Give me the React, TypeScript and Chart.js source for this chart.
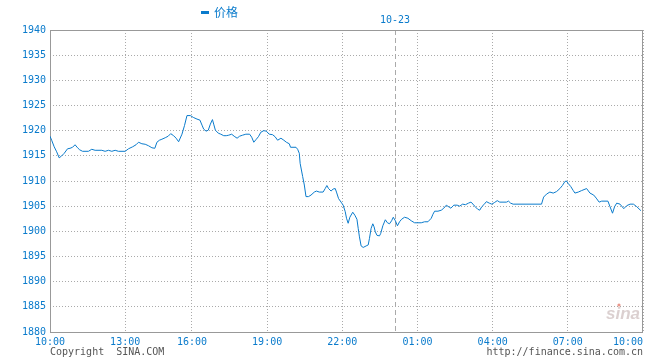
import React, { useEffect, useRef } from "react";
import { Chart, registerables } from "chart.js";

Chart.register(...registerables);

const SERIES_NAME = "价格";
const DATE_LABEL = "10-23";
const DATE_MINUTE = 826;
const COPYRIGHT_LEFT = "Copyright  SINA.COM";
const COPYRIGHT_RIGHT = "http://finance.sina.com.cn";
const WATERMARK = "sina";

const X_MIN = 0;
const X_MAX = 1420;
const TICK_MINUTES = [0, 180, 340, 520, 700, 880, 1060, 1240, 1420];
const TICK_LABELS = ["10:00", "13:00", "16:00", "19:00", "22:00", "01:00", "04:00", "07:00", "10:00"];

const Y_MIN = 1880;
const Y_MAX = 1940;
const Y_STEP = 5;

// session minutes since 10:00 on the chart's time axis
const MINUTES = [
  0, 4, 10, 16, 22, 28, 34, 42, 48, 54, 60, 66, 71, 78, 92, 100, 108, 124, 132, 140,
  148, 156, 164, 180, 188, 198, 206, 212, 220, 228, 236, 244, 251, 256, 262, 268, 276, 283, 289, 296,
  302, 308, 316, 322, 328, 336, 344, 352, 359, 364, 368, 374, 379, 384, 389, 392, 396, 403, 409, 416,
  422, 428, 435, 441, 448, 454, 461, 469, 478, 483, 488, 494, 499, 505, 512, 518, 525, 533, 539, 545,
  553, 560, 566, 573, 576, 589, 593, 597, 599, 605, 609, 613, 619, 625, 633, 638, 645, 654, 659, 663,
  667, 673, 678, 683, 686, 691, 697, 702, 707, 710, 714, 718, 725, 730, 735, 738, 741, 745, 750, 757,
  762, 765, 769, 773, 776, 779, 783, 789, 792, 797, 803, 808, 813, 818, 822, 827, 832, 837, 842, 849,
  857, 865, 873, 889, 897, 905, 913, 917, 921, 929, 937, 943, 949, 956, 960, 967, 975, 981, 988, 995,
  1002, 1008, 1013, 1018, 1024, 1029, 1034, 1039, 1045, 1052, 1058, 1064, 1071, 1077, 1093, 1098, 1103, 1109, 1177, 1182,
  1189, 1197, 1205, 1213, 1221, 1227, 1233, 1237, 1241, 1247, 1253, 1257, 1265, 1273, 1285, 1293, 1302, 1308, 1315, 1321,
  1336, 1341, 1347, 1352, 1357, 1365, 1374, 1381, 1389, 1397, 1405, 1415,
];

const PRICES = [
  1918.9, 1918.1, 1916.8, 1915.8, 1914.6, 1915.0, 1915.5, 1916.4, 1916.5, 1916.7, 1917.2, 1916.6, 1916.2, 1915.9, 1915.9, 1916.3, 1916.1, 1916.1, 1915.9, 1916.1,
  1915.9, 1916.1, 1915.9, 1915.9, 1916.4, 1916.8, 1917.2, 1917.7, 1917.4, 1917.3, 1917.0, 1916.6, 1916.5, 1917.7, 1918.1, 1918.3, 1918.6, 1918.9, 1919.4, 1919.0,
  1918.5, 1917.8, 1919.3, 1921.0, 1923.0, 1923.0, 1922.6, 1922.3, 1922.1, 1921.1, 1920.3, 1919.9, 1920.1, 1921.3, 1922.2, 1921.3, 1920.1, 1919.5, 1919.3, 1919.0,
  1919.0, 1919.1, 1919.3, 1918.9, 1918.5, 1918.9, 1919.1, 1919.3, 1919.3, 1918.7, 1917.7, 1918.3, 1918.8, 1919.7, 1920.0, 1919.9, 1919.3, 1919.2, 1918.8, 1918.1,
  1918.5, 1918.1, 1917.7, 1917.4, 1916.7, 1916.7, 1916.3, 1915.5, 1913.5, 1910.9, 1909.2, 1906.9, 1906.9, 1907.2, 1907.8, 1908.0, 1907.8, 1907.8, 1908.5, 1909.1,
  1908.5, 1908.0, 1908.4, 1908.5, 1907.8, 1906.5, 1905.8, 1905.2, 1903.9, 1902.6, 1901.6, 1902.8, 1903.8, 1903.2, 1902.4, 1900.6, 1898.9, 1897.1, 1896.8, 1897.1,
  1897.3, 1898.6, 1900.6, 1901.5, 1900.9, 1899.9, 1899.2, 1899.1, 1899.6, 1901.1, 1902.3, 1901.7, 1901.5, 1902.1, 1902.8, 1902.1, 1901.1, 1901.9, 1902.4, 1902.8,
  1902.6, 1902.1, 1901.7, 1901.7, 1901.9, 1901.9, 1902.6, 1903.4, 1904.0, 1904.0, 1904.2, 1904.6, 1905.2, 1904.8, 1904.6, 1905.2, 1905.2, 1905.0, 1905.4, 1905.3,
  1905.6, 1905.8, 1905.4, 1904.9, 1904.4, 1904.2, 1904.9, 1905.3, 1905.9, 1905.6, 1905.4, 1905.7, 1906.1, 1905.8, 1905.8, 1906.0, 1905.6, 1905.4, 1905.4, 1906.8,
  1907.4, 1907.8, 1907.6, 1907.9, 1908.5, 1909.1, 1909.9, 1910.0, 1909.5, 1908.9, 1908.1, 1907.6, 1907.8, 1908.1, 1908.5, 1907.6, 1907.2, 1906.6, 1905.8, 1906.0,
  1906.0, 1904.9, 1903.6, 1904.9, 1905.6, 1905.4, 1904.5, 1905.1, 1905.4, 1905.4, 1904.9, 1904.1,
];

const BLUE = "#0a7bcc";
const GRID = "#aaaaaa";
const BORDER = "#999999";
const MONO = "'DejaVu Sans Mono', monospace";

const decorPlugin = {
  id: "decor",
  beforeDatasetsDraw(chart: any) {
    const { ctx, chartArea: a, scales } = chart;
    const x = scales.x;
    ctx.save();
    const dx = Math.round(x.getPixelForValue(DATE_MINUTE)) + 0.5;
    ctx.strokeStyle = "#aaaaaa";
    ctx.lineWidth = 1;
    ctx.setLineDash([5, 3]);
    ctx.beginPath();
    ctx.moveTo(dx, a.top);
    ctx.lineTo(dx, a.bottom);
    ctx.stroke();
    ctx.setLineDash([]);
    ctx.strokeStyle = BORDER;
    ctx.strokeRect(Math.round(a.left) + 0.5, Math.round(a.top) + 0.5, Math.round(a.right - a.left) - 1, Math.round(a.bottom - a.top));
    ctx.restore();
  },
  afterDraw(chart: any) {
    const { ctx, chartArea: a, scales } = chart;
    const x = scales.x;
    ctx.save();
    ctx.font = `10px ${MONO}`;
    ctx.textBaseline = "middle";
    ctx.fillStyle = BLUE;
    x.ticks.forEach((t: any) => {
      const idx = TICK_MINUTES.indexOf(t.value);
      if (idx < 0) return;
      const label = TICK_LABELS[idx];
      const px = x.getPixelForValue(t.value);
      const w = ctx.measureText(label).width;
      let left = px - w / 2;
      if (left + w > a.right) left = a.right - w;
      ctx.textAlign = "left";
      ctx.fillText(label, left, a.bottom + 10);
    });
    const dx = x.getPixelForValue(DATE_MINUTE);
    ctx.textAlign = "center";
    ctx.fillText(DATE_LABEL, dx, a.top - 10);
    ctx.fillRect(201, 11, 8, 3);
    ctx.font = "12px 'Noto Sans CJK SC', sans-serif";
    ctx.textAlign = "left";
    ctx.fillText(SERIES_NAME, 214, 12);
    ctx.font = `10px ${MONO}`;
    ctx.fillStyle = "#555555";
    ctx.textAlign = "left";
    ctx.fillText(COPYRIGHT_LEFT, a.left, 352);
    ctx.textAlign = "right";
    ctx.fillText(COPYRIGHT_RIGHT, a.right, 352);
    ctx.font = "italic bold 17px 'Liberation Sans', sans-serif";
    ctx.fillStyle = "rgba(190,170,170,0.55)";
    ctx.textAlign = "right";
    ctx.fillText(WATERMARK, a.right - 3, a.bottom - 18);
    ctx.fillStyle = "rgba(220,80,60,0.6)";
    ctx.beginPath();
    ctx.arc(a.right - 24, a.bottom - 27, 1.6, 0, Math.PI * 2);
    ctx.fill();
    ctx.restore();
  },
};

export default function App() {
  const ref = useRef<HTMLCanvasElement | null>(null);

  useEffect(() => {
    const prevMargin = document.body.style.margin;
    document.body.style.margin = "0";
    if (!ref.current) return;
    const chart = new Chart(ref.current, {
      type: "line",
      data: {
        datasets: [
          {
            label: SERIES_NAME,
            data: MINUTES.map((m, i) => ({ x: m, y: PRICES[i] })),
            borderColor: BLUE,
            backgroundColor: BLUE,
            borderWidth: 1,
            pointRadius: 0,
            tension: 0,
            fill: false,
          },
        ],
      },
      options: {
        responsive: false,
        animation: false,
        events: [],
        layout: { padding: { top: 30, right: 17, left: 0, bottom: 0 } },
        plugins: {
          legend: { display: false },
          tooltip: { enabled: false },
        },
        scales: {
          x: {
            type: "linear",
            min: X_MIN,
            max: X_MAX,
            afterBuildTicks: (scale: any) => {
              scale.ticks = TICK_MINUTES.map((v) => ({ value: v }));
            },
            afterFit: (scale: any) => {
              scale.height = 28;
            },
            ticks: { display: false },
            grid: { color: GRID, drawTicks: false, lineWidth: 1 },
            border: { display: false, dash: [1, 2] },
          },
          y: {
            min: Y_MIN,
            max: Y_MAX,
            afterFit: (scale: any) => {
              scale.width = 50;
            },
            ticks: {
              stepSize: Y_STEP,
              color: BLUE,
              padding: 4,
              font: { family: MONO, size: 10 },
              callback: (v: any) => String(v),
            },
            grid: { color: GRID, drawTicks: false, lineWidth: 1 },
            border: { display: false, dash: [1, 2] },
          },
        },
      },
      plugins: [decorPlugin],
    });
    return () => {
      chart.destroy();
      document.body.style.margin = prevMargin;
    };
  }, []);

  return (
    <div style={{ position: "fixed", left: 0, top: 0, width: 660, height: 360, background: "#ffffff" }}>
      <canvas ref={ref} width={660} height={360} style={{ display: "block", width: 660, height: 360 }} />
    </div>
  );
}
